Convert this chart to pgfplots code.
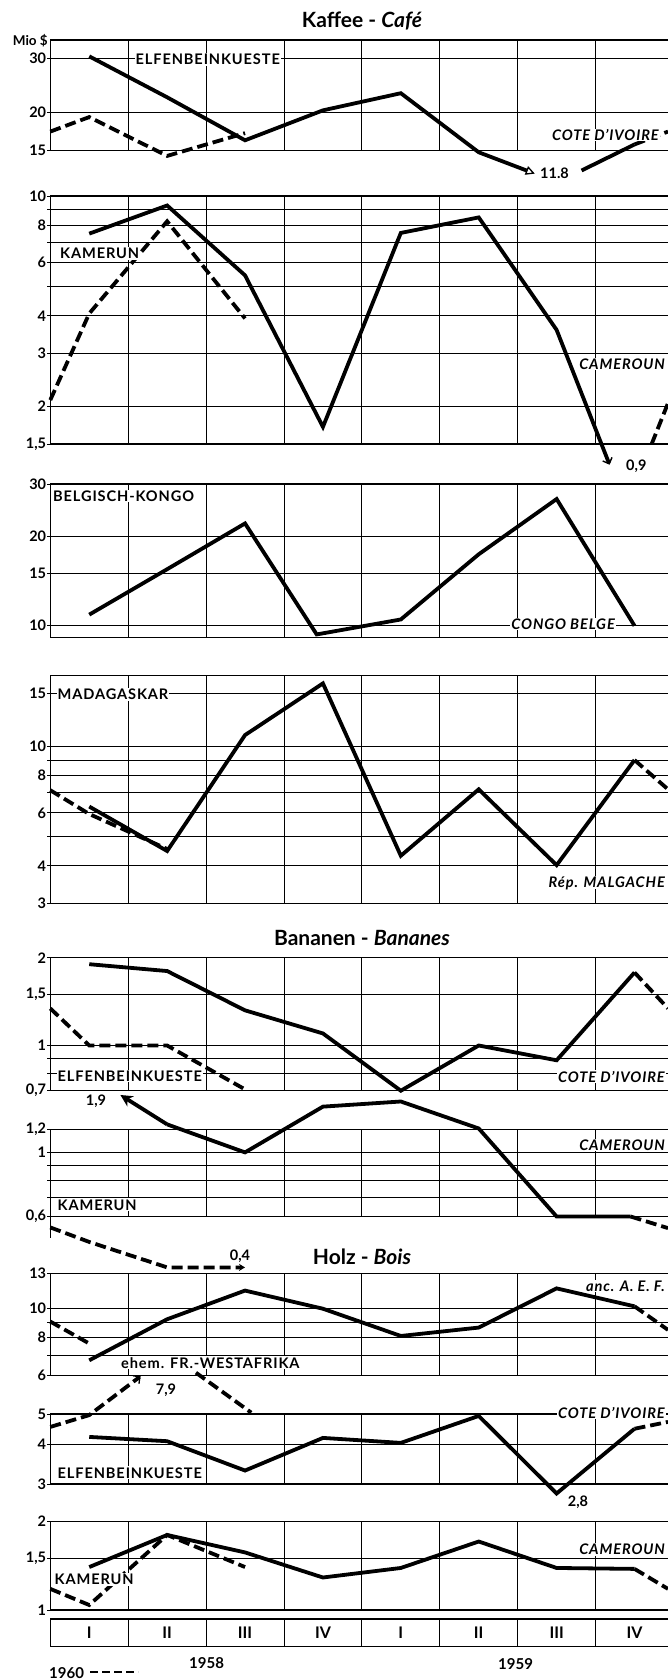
\documentclass[border=0pt]{standalone}
\usepackage{fontspec}
\setmainfont{Lato}
\usepackage{pgfplots}
\pgfplotsset{compat=1.18}
\usetikzlibrary{arrows.meta}
\newcommand\lf{\fontsize{14.6}{15}\selectfont\bfseries\addfontfeature{LetterSpace=6}}
\newcommand\nf{\fontsize{14.5}{14.5}\selectfont\bfseries}
\pgfplotsset{
 mypanel/.style={scale only axis, width=617.7pt, xmin=0, xmax=7.93, clip=false,
  axis x line=box, axis y line*=left,
  xtick={1,2,3,4,5,6,7}, xticklabels={}, xmajorgrids, ymajorgrids,
  major grid style={line width=0.9pt, black},
  axis line style={line width=1.3pt, black},
  ytick style={line width=0.9pt, black}, xtick style={draw=none},
  major tick length=3pt, tick align=outside,
  yticklabel style={font=\nf, inner sep=1pt},
  anchor=north west},
}
\tikzset{sol/.style={black, line width=3.8pt, line join=miter, miter limit=4, line cap=butt},
 dsh/.style={sol, dash pattern=on 11pt off 5pt},
 lbl/.style={fill=white, inner sep=1pt, text height=10.6pt, text depth=0pt, font=\lf},
 ilbl/.style={lbl, font=\lf\itshape},
 num/.style={inner sep=0pt, font=\nf}}
\begin{document}
\begin{tikzpicture}
\path[use as bounding box] (0pt,0pt) rectangle (668pt,-1680pt);
% ---------------- Kaffee: Elfenbeinkueste
\begin{axis}[ymode=log, mypanel, at={(50.3pt,-40pt)}, height=110.5pt, ymin=15, ymax=34.5,
  ytick={15,20,30}, yticklabels={15,20,30}]
\addplot[dsh] coordinates {(0,17.3) (0.5,19.3) (1.5,14.4) (2.5,17.1)};
\addplot[sol, -{Triangle[open,length=9pt,width=9pt,line width=1.3pt]}] coordinates {(0.5,30.5) (1.5,22.4) (2.5,16.2) (3.5,20.3) (4.5,23.1) (5.5,14.8) (6.22,12.6)};
\addplot[sol] coordinates {(6.82,12.9) (7.5,15.7)};
\addplot[dsh] coordinates {(7.5,15.7) (7.93,17.3)};
\end{axis}
% ---------------- Kaffee: Kamerun
\begin{axis}[ymode=log, mypanel, at={(50.3pt,-196pt)}, height=248pt, ymin=1.5, ymax=10,
  ytick={1.5,2,3,4,5,6,7,8,9,10}, yticklabels={{1,5},2,3,4,,6,,8,,10}]
\addplot[dsh] coordinates {(0,2.1) (0.5,4.07) (1.5,8.24) (2.5,3.92)};
\addplot[sol, -{Straight Barb[length=5pt,width=10pt,line width=1.4pt]}] coordinates {(0.5,7.5) (1.5,9.3) (2.5,5.45) (3.5,1.71) (4.5,7.54) (5.5,8.49) (6.5,3.59) (7.18,1.28)};
\addplot[dsh] coordinates {(7.72,1.5) (7.93,2.05)};
\end{axis}
% ---------------- Kaffee: Belgisch-Kongo
\begin{axis}[ymode=log, mypanel, at={(50.3pt,-484pt)}, height=153.5pt, ymin=9.13, ymax=30,
  ytick={10,15,20,30}, yticklabels={10,15,20,30}]
\addplot[sol] coordinates {(0.5,10.9) (1.5,15.5) (2.5,22.1) (3.42,9.35) (4.5,10.5) (5.5,17.4) (6.5,26.7) (7.5,10.0)};
\end{axis}
% ---------------- Kaffee: Madagaskar
\begin{axis}[ymode=log, mypanel, at={(50.3pt,-675.6pt)}, height=227.7pt, ymin=3, ymax=17.2,
  ytick={3,4,5,6,7,8,9,10,15}, yticklabels={3,4,,6,,8,,10,15}]
\addplot[dsh] coordinates {(0,7.14) (0.5,5.95) (1.5,4.55)};
\addplot[sol] coordinates {(0.5,6.3) (1.5,4.48) (2.5,10.9) (3.5,16.2) (4.5,4.32) (5.5,7.19) (6.5,4.02) (7.5,9.0)};
\addplot[dsh] coordinates {(7.5,9.0) (7.93,7.19)};
\end{axis}
% ---------------- Bananen: Elfenbeinkueste
\begin{axis}[ymode=log, mypanel, at={(50.3pt,-957.7pt)}, height=133pt, ymin=0.7, ymax=2,
  ytick={0.7,0.8,0.9,1,1.5,2}, yticklabels={{0,7},,,1,{1,5},2}]
\addplot[dsh] coordinates {(0,1.34) (0.5,1.0) (1.5,1.0) (2.53,0.7)};
\addplot[sol] coordinates {(0.5,1.9) (1.5,1.8) (2.5,1.32) (3.5,1.1) (4.5,0.7) (5.5,1.0) (6.5,0.89) (7.5,1.78)};
\addplot[dsh] coordinates {(7.5,1.78) (7.93,1.34)};
\end{axis}
% ---------------- Bananen: Kamerun
\begin{axis}[ymode=log, mypanel, at={(50.3pt,-1129.5pt)}, height=87pt, ymin=0.6, ymax=1.2,
  ytick={0.6,0.7,0.8,0.9,1,1.2}, yticklabels={{0,6},,,,1,{1,2}}]
\draw[line width=1.3pt] (axis cs:0,0.6) -- (axis cs:0,0.506);
\addplot[dsh, -{Stealth[length=6pt,width=7pt]}] coordinates {(0,0.55) (0.5,0.49) (1.5,0.40) (2.5,0.40)};
\addplot[sol, -{Stealth[length=12pt,width=12pt]}] coordinates {(1.5,1.25) (0.9,1.58)};
\addplot[sol] coordinates {(1.5,1.25) (2.5,1.0) (3.5,1.44) (4.5,1.5) (5.5,1.21) (6.5,0.6) (7.45,0.6)};
\addplot[dsh] coordinates {(7.45,0.6) (7.93,0.547)};
\end{axis}
% ---------------- Holz: A.E.F.
\begin{axis}[ymode=log, mypanel, at={(50.3pt,-1273.3pt)}, height=102.4pt, ymin=6, ymax=13,
  ytick={6,7,8,9,10,13}, yticklabels={6,,8,,10,13}]
\addplot[dsh] coordinates {(0,9.03) (0.52,7.6)};
\addplot[sol] coordinates {(0.5,6.74) (1.5,9.19) (2.5,11.41) (3.5,9.95) (4.5,8.10) (5.5,8.63) (6.5,11.6) (7.5,10.13)};
\addplot[dsh] coordinates {(7.5,10.13) (7.93,8.48)};
\end{axis}
% ---------------- Holz: Elfenbeinkueste
\begin{axis}[ymode=log, mypanel, at={(50.3pt,-1414pt)}, height=70pt, ymin=3, ymax=5,
  ytick={3,4,5}, yticklabels={3,4,5}]
\addplot[dsh, -{Straight Barb[length=5pt,width=10pt,line width=1.3pt]}] coordinates {(0,4.55) (0.5,4.96) (1.16,6.59)};
\addplot[dsh] coordinates {(1.87,6.76) (2.58,5.05)};
\addplot[sol] coordinates {(0.5,4.23) (1.5,4.1) (2.5,3.31) (3.5,4.2) (4.5,4.05) (5.5,4.93) (6.5,2.8) (7.5,4.49)};
\addplot[dsh] coordinates {(7.5,4.49) (7.93,4.72)};
\end{axis}
% ---------------- Holz: Kamerun
\begin{axis}[ymode=log, mypanel, at={(50.3pt,-1521.5pt)}, height=88.5pt, ymin=1, ymax=2,
  ytick={1,1.5,2}, yticklabels={1,{1,5},2}]
\addplot[dsh] coordinates {(0,1.18) (0.5,1.04) (1.5,1.80) (2.5,1.40)};
\addplot[sol] coordinates {(0.5,1.40) (1.5,1.80) (2.5,1.57) (3.5,1.29) (4.5,1.39) (5.5,1.71) (6.5,1.39) (7.5,1.38)};
\addplot[dsh] coordinates {(7.5,1.38) (7.93,1.18)};
\end{axis}
% ---------------- quarter boxes
\begin{axis}[scale only axis, width=617.7pt, height=27.7pt, xmin=0, xmax=7.93, ymin=0, ymax=1,
  at={(50.3pt,-1619pt)}, anchor=north west, clip=false,
  axis x line=box, axis y line*=left, axis line style={line width=1.3pt, black},
  xtick={1,2,3,4,5,6,7}, xticklabels={}, xtick style={draw=none}, ytick=\empty,
  xmajorgrids, major grid style={line width=0.9pt, black}]
\node[font=\fontsize{16}{16}\selectfont\bfseries] at (axis cs:0.5,0.5) {I};
\node[font=\fontsize{16}{16}\selectfont\bfseries] at (axis cs:1.5,0.5) {II};
\node[font=\fontsize{16}{16}\selectfont\bfseries] at (axis cs:2.5,0.5) {III};
\node[font=\fontsize{16}{16}\selectfont\bfseries] at (axis cs:3.5,0.5) {IV};
\node[font=\fontsize{16}{16}\selectfont\bfseries] at (axis cs:4.5,0.5) {I};
\node[font=\fontsize{16}{16}\selectfont\bfseries] at (axis cs:5.5,0.5) {II};
\node[font=\fontsize{16}{16}\selectfont\bfseries] at (axis cs:6.5,0.5) {III};
\node[font=\fontsize{16}{16}\selectfont\bfseries] at (axis cs:7.5,0.5) {IV};
\end{axis}
% ---------------- titles
\node[font=\fontsize{21}{21}\selectfont\bfseries] at (362pt,-21pt) {Kaffee - \textit{Café}};
\node[font=\fontsize{21}{21}\selectfont\bfseries] at (362pt,-938.3pt) {Bananen - \textit{Bananes}};
\node[font=\fontsize{21}{21}\selectfont\bfseries] at (362pt,-1256.7pt) {Holz - \textit{Bois}};
% ---------------- labels
\node[anchor=east, inner sep=0pt, font=\fontsize{13.5}{13.5}\selectfont\bfseries] at (48pt,-40.7pt) {Mio \$};
\node[lbl, anchor=west] at (134.5pt,-59.5pt) {ELFENBEINKUESTE};
\node[ilbl, anchor=east] at (660pt,-135pt) {COTE D'IVOIRE};
\node[num, anchor=west] at (540pt,-173pt) {11.8};
\node[lbl, anchor=west] at (59pt,-253.3pt) {KAMERUN};
\node[ilbl, anchor=east] at (666pt,-364pt) {CAMEROUN};
\node[num, anchor=west] at (626pt,-466.7pt) {0,9};
\node[lbl, anchor=west] at (52pt,-496pt) {BELGISCH-KONGO};
\node[ilbl, anchor=east] at (616pt,-624pt) {CONGO BELGE};
\node[lbl, anchor=west] at (56.5pt,-694.3pt) {MADAGASKAR};
\node[ilbl, anchor=east] at (666pt,-882.3pt) {Rép. MALGACHE};
\node[lbl, anchor=west] at (56.5pt,-1076pt) {ELFENBEINKUESTE};
\node[ilbl, anchor=east] at (666pt,-1076.7pt) {COTE D'IVOIRE};
\node[num] at (96pt,-1101.7pt) {1,9};
\node[ilbl, anchor=east] at (666pt,-1145pt) {CAMEROUN};
\node[lbl, anchor=west] at (56.5pt,-1204.7pt) {KAMERUN};
\node[num] at (240pt,-1256.7pt) {0,4};
\node[ilbl, anchor=east] at (666pt,-1286pt) {anc. A. E. F.};
\node[lbl, anchor=west] at (120pt,-1362.7pt) {ehem. FR.-WESTAFRIKA};
\node[num] at (166pt,-1390pt) {7,9};
\node[ilbl, anchor=east] at (666pt,-1412.7pt) {COTE D'IVOIRE};
\node[lbl, anchor=west] at (56.5pt,-1472.7pt) {ELFENBEINKUESTE};
\node[num] at (578pt,-1502.7pt) {2,8};
\node[ilbl, anchor=east] at (666pt,-1549.3pt) {CAMEROUN};
\node[lbl, anchor=west] at (53.5pt,-1579.3pt) {KAMERUN};
% ---------------- years
\node[font=\fontsize{15}{15}\selectfont\bfseries] at (206.6pt,-1663.3pt) {1958};
\node[font=\fontsize{15}{15}\selectfont\bfseries] at (515.6pt,-1664pt) {1959};
\node[anchor=west, inner sep=0pt, font=\fontsize{15}{15}\selectfont\bfseries] at (49pt,-1672.7pt) {1960};
\draw[line width=2.6pt, dash pattern=on 8pt off 4pt] (90pt,-1672pt) -- (138pt,-1672pt);
\end{tikzpicture}
\end{document}
